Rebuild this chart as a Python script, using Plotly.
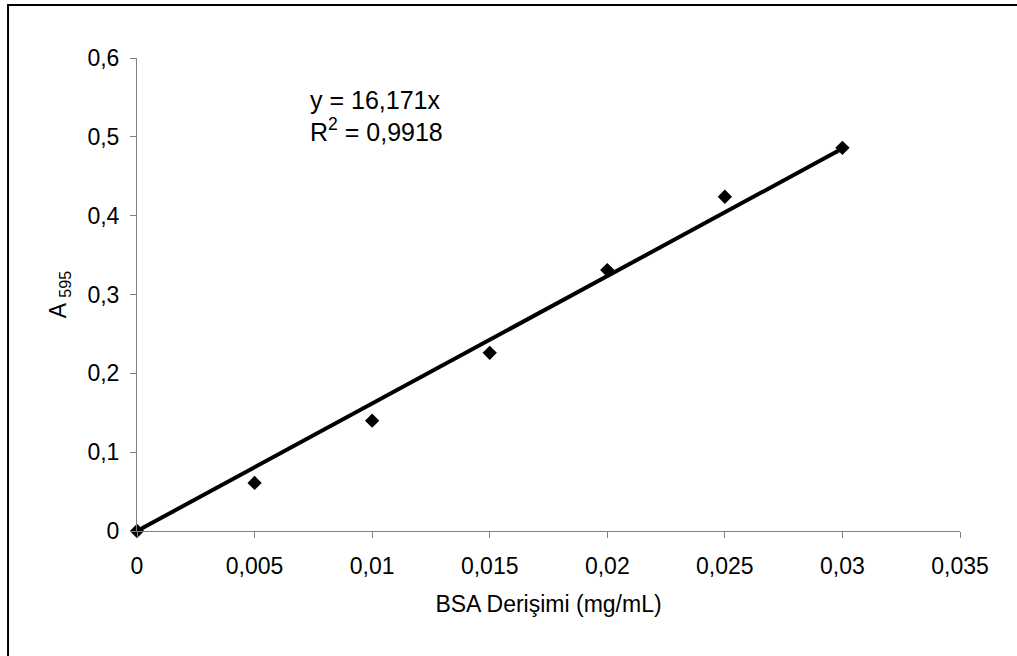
import plotly.graph_objects as go

conc = [0, 0.005, 0.01, 0.015, 0.02, 0.025, 0.03]
absorb = [0, 0.061, 0.140, 0.226, 0.331, 0.424, 0.486]
slope = 16.171
fit_x = [0, 0.03]
fit_y = [slope * v for v in fit_x]

x_ticks = [0, 0.005, 0.01, 0.015, 0.02, 0.025, 0.03, 0.035]
x_tick_labels = ["0", "0,005", "0,01", "0,015", "0,02", "0,025", "0,03", "0,035"]
y_ticks = [0, 0.1, 0.2, 0.3, 0.4, 0.5, 0.6]
y_tick_labels = ["0", "0,1", "0,2", "0,3", "0,4", "0,5", "0,6"]

FONT = "Arial, Liberation Sans, Helvetica, sans-serif"

fig = go.Figure()
fig.add_trace(go.Scatter(
    x=conc, y=absorb, mode="markers",
    marker=dict(symbol="diamond", size=11, color="black"),
    cliponaxis=False, showlegend=False, hoverinfo="x+y"))
fig.add_trace(go.Scatter(
    x=fit_x, y=fit_y, mode="lines",
    line=dict(color="black", width=4),
    cliponaxis=False, showlegend=False))

fig.update_layout(
    width=1017, height=656,
    margin=dict(l=137, r=57, t=58, b=125),
    paper_bgcolor="white", plot_bgcolor="white",
    font=dict(family=FONT, size=23, color="black"),
    xaxis=dict(
        range=[0, 0.035], tickvals=x_ticks, ticktext=x_tick_labels,
        showgrid=False, zeroline=False, showline=True, linecolor="#808080", linewidth=1,
        ticks="outside", ticklen=6, tickcolor="#808080", tickwidth=1,
        ticklabelstandoff=8,
        tickfont=dict(size=23),
        title=dict(text="BSA Derişimi (mg/mL)", font=dict(size=23), standoff=18)),
    yaxis=dict(
        range=[0, 0.6], tickvals=y_ticks, ticktext=y_tick_labels,
        showgrid=False, zeroline=False, showline=True, linecolor="#808080", linewidth=1,
        ticks="outside", ticklen=6, tickcolor="#808080", tickwidth=1,
        ticklabelstandoff=6,
        tickfont=dict(size=23),
        title=dict(text="A <sub>595</sub>", font=dict(size=23), standoff=14)),
    shapes=[dict(type="rect", xref="paper", yref="paper",
                 x0=-0.1567, x1=1.2, y0=-0.4, y1=1.112,
                 line=dict(color="black", width=2), fillcolor="rgba(0,0,0,0)", layer="below")],
    annotations=[
        dict(text="y = 16,171x", xref="paper", yref="paper", x=0.2078, y=0.912,
             xanchor="left", yanchor="middle", showarrow=False, font=dict(size=25)),
        dict(text="R<sup>2</sup> = 0,9918", xref="paper", yref="paper", x=0.2078, y=0.848,
             xanchor="left", yanchor="middle", showarrow=False, font=dict(size=25)),
    ],
)

fig.write_html("out.html")
